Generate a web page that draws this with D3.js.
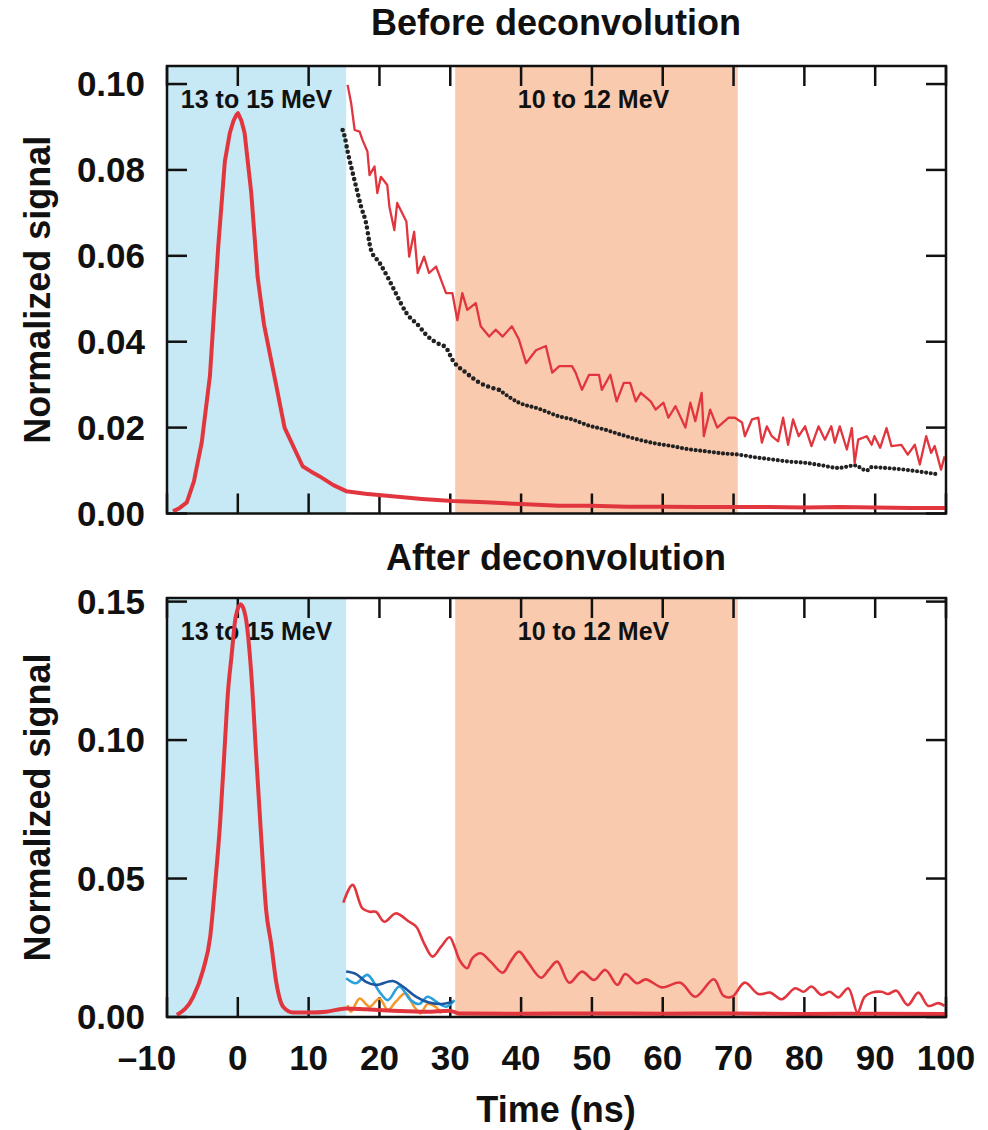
<!DOCTYPE html>
<html><head><meta charset="utf-8">
<script src="https://cdn.jsdelivr.net/npm/d3@7"></script>
<style>
html,body{margin:0;padding:0;background:#fff;}
text{font-family:"Liberation Sans",Arial,Helvetica,sans-serif;font-weight:700;fill:#111;}
</style></head>
<body>
<svg id="chart" width="988" height="1130"></svg>
<script>
// ---------------- DATA ----------------
const xTicks = [-10,0,10,20,30,40,50,60,70,80,90,100];
const yTicksTop = [0,0.02,0.04,0.06,0.08,0.10];
const yTicksBottom = [0,0.05,0.10,0.15];
const titles = ["Before deconvolution","After deconvolution"];
const bandBlue = [-10, 15.3];
const bandOrange = [30.7, 70.6];
const bandLabels = ["13 to 15 MeV","10 to 12 MeV"];

// Top panel: thick red (prompt peak, before deconvolution)
const topPeak = [[-9.15,0.0005],[-8.2,0.0013],[-7.2,0.0026],[-6.2,0.0075],[-5.1,0.0165],[-3.94,0.032],[-2.77,0.062],[-1.83,0.082],[-1.13,0.0886],[-0.6,0.0915],[-0.2,0.0928],[0.03,0.0932],[0.5,0.0915],[0.96,0.0886],[1.9,0.0746],[2.8,0.055],[3.7,0.044],[4.5,0.0374],[5.45,0.0296],[6.6,0.020],[9.15,0.011],[10.3,0.0098],[11.5,0.0087],[13.5,0.0066],[15.3,0.0052],[18,0.0046],[21.8,0.0040],[26,0.0034],[30.3,0.0029],[35,0.0026],[40,0.0022],[45.3,0.0018],[50,0.0018],[55,0.0016],[60,0.0016],[65,0.0015],[70,0.0015],[75,0.0015],[80,0.0014],[85,0.0015],[90,0.0014],[95,0.0013],[99.9,0.0013]];

// Top panel: thin noisy red (before deconvolution, later signal)
const topNoisy = [[15.5,0.0998],[16.0,0.0956],[16.5,0.0893],[17.2,0.0889],[17.6,0.087],[18.3,0.0843],[18.6,0.0788],[19.3,0.0808],[19.7,0.0746],[20.2,0.0784],[21.1,0.0765],[21.4,0.0715],[22.1,0.066],[22.5,0.0723],[23.8,0.068],[24.2,0.0598],[24.9,0.0656],[25.4,0.056],[26.3,0.0598],[27.0,0.056],[28.0,0.0575],[28.7,0.0544],[29.4,0.0513],[30.3,0.0513],[31.0,0.045],[31.7,0.0513],[32.4,0.0474],[33.6,0.049],[34.3,0.0436],[35.5,0.0412],[36.4,0.0428],[37.4,0.0412],[38.7,0.0436],[39.7,0.0405],[40.7,0.035],[42.1,0.038],[43.5,0.039],[44.4,0.0328],[45.4,0.0343],[47.2,0.0343],[47.7,0.0328],[48.6,0.0288],[49.6,0.0323],[51.0,0.0323],[51.4,0.0288],[52.6,0.0323],[53.5,0.0261],[54.5,0.0304],[55.4,0.0304],[56.2,0.0261],[56.9,0.0281],[58.3,0.0261],[59.0,0.0242],[60.1,0.0258],[60.8,0.0223],[61.8,0.025],[63.2,0.020],[63.9,0.0258],[64.6,0.0215],[65.5,0.0281],[65.8,0.018],[66.7,0.0242],[67.7,0.020],[69.3,0.0223],[70.2,0.0223],[71.2,0.0212],[71.6,0.018],[72.6,0.0219],[73.5,0.0223],[74.0,0.0165],[74.7,0.0203],[75.4,0.018],[76.3,0.0168],[77.0,0.0223],[77.7,0.016],[78.4,0.0219],[79.2,0.018],[80.1,0.0203],[81.0,0.0157],[82.0,0.0203],[82.9,0.0172],[83.8,0.0203],[84.3,0.0165],[85.0,0.0203],[86.0,0.0149],[86.7,0.0199],[87.1,0.0118],[87.6,0.0172],[88.8,0.018],[89.5,0.016],[89.9,0.018],[90.7,0.0153],[91.6,0.0199],[92.3,0.0157],[93.7,0.016],[94.6,0.0137],[95.6,0.016],[96.3,0.0114],[97.2,0.018],[97.9,0.0141],[98.4,0.0157],[98.8,0.0133],[99.3,0.0102],[99.8,0.0133]];

// Top panel: black dotted (reference decay)
const topDotted = [[14.8,0.0893],[15.1,0.0877],[15.5,0.0843],[16.0,0.0808],[16.7,0.0761],[17.4,0.0715],[18.1,0.0677],[18.8,0.0614],[20.0,0.0584],[21.2,0.0549],[22.3,0.0513],[23.8,0.0467],[25.6,0.0436],[26.6,0.0416],[28.0,0.0398],[29.4,0.0386],[30.3,0.0358],[32.2,0.0328],[34.1,0.0305],[36.9,0.0288],[39.7,0.0258],[42.5,0.0244],[45.4,0.0226],[47.2,0.0219],[49.5,0.0205],[51.9,0.0195],[54.0,0.0184],[56.6,0.0172],[59.0,0.0163],[61.3,0.0157],[63.5,0.0150],[66.0,0.0145],[68.5,0.0140],[70.7,0.0137],[73.0,0.0131],[75.4,0.0126],[77.8,0.0121],[80.1,0.0118],[82.5,0.0112],[84.8,0.0106],[87.1,0.0112],[88.8,0.0100],[89.5,0.0108],[91.5,0.0106],[94.2,0.0102],[96.5,0.0097],[98.9,0.0091]];

// Bottom panel: thick red (deconvolved peak)
const botPeak = [[-8.6,0.0007],[-6.3,0.0073],[-4.9,0.017],[-3.9,0.029],[-3.2,0.048],[-2.5,0.070],[-1.8,0.100],[-1.4,0.117],[-0.9,0.130],[-0.3,0.1445],[0.4,0.149],[1.1,0.1445],[1.9,0.124],[2.6,0.094],[3.3,0.065],[4.0,0.0386],[4.7,0.0266],[5.45,0.0122],[6.4,0.0037],[7.8,0.0016],[10.1,0.0016],[12.5,0.0019],[15.3,0.0031],[18.1,0.0028],[21.9,0.0023],[26.6,0.0019],[29.9,0.0023],[31.3,0.0013],[40,0.0012],[50,0.0013],[60,0.0012],[70,0.0013],[80,0.0011],[90,0.0012],[99.9,0.0011]];

// Bottom panel: thin red (deconvolved later signal)
const botThin = [[14.9,0.0413],[16.2,0.0477],[17.6,0.0392],[18.6,0.038],[19.5,0.038],[20.7,0.0344],[22.3,0.0374],[24.2,0.0344],[25.2,0.0326],[26.3,0.0266],[27.5,0.0218],[28.7,0.0254],[29.9,0.0288],[30.6,0.0254],[31.3,0.0206],[32.4,0.0176],[33.1,0.0212],[34.3,0.023],[35.7,0.020],[37.4,0.016],[38.5,0.020],[39.7,0.0236],[40.9,0.020],[42.8,0.0142],[43.9,0.017],[45.1,0.020],[46.8,0.0124],[48.6,0.0164],[50.3,0.0134],[51.9,0.017],[53.6,0.0116],[54.7,0.0155],[56.4,0.0122],[57.6,0.0136],[59.9,0.0107],[62.5,0.0124],[64.6,0.0073],[67.2,0.0136],[68.6,0.0076],[69.8,0.0073],[71.6,0.0124],[73.5,0.0083],[75.2,0.0088],[76.8,0.0064],[78.7,0.0104],[79.9,0.0091],[81.0,0.011],[82.4,0.008],[83.6,0.0091],[84.8,0.0071],[86.2,0.0104],[87.5,0.0016],[88.5,0.0073],[89.5,0.0088],[90.9,0.0091],[91.8,0.0083],[93.0,0.0095],[94.6,0.0043],[96.1,0.0088],[97.5,0.004],[98.9,0.005],[99.8,0.004]];

// Bottom panel: short coloured traces between 15 and 31 ns
const botNavy = [[15.3,0.0164],[16.7,0.0155],[18.1,0.0127],[19.5,0.0116],[21.9,0.013],[23.3,0.011],[25.2,0.0073],[27.0,0.0052],[28.9,0.0047],[30.3,0.0055]];
const botSky = [[15.3,0.014],[16.7,0.0122],[18.3,0.0152],[20.0,0.0091],[21.2,0.0061],[22.8,0.011],[24.4,0.0061],[25.6,0.0047],[26.8,0.0073],[28.2,0.0052],[29.4,0.0037],[30.6,0.0061]];
const botOrange = [[15.5,0.0043],[16.0,0.0019],[17.2,0.0067],[18.6,0.0037],[20.0,0.0067],[21.2,0.0025],[22.3,0.0055],[23.7,0.0086],[24.9,0.0037],[25.8,0.0013],[26.8,0.0047],[28.0,0.0035],[28.7,0.0013]];

// ---------------- DRAW ----------------
const svg = d3.select("#chart");
const RED = "#e2363f", BLUE_BAND = "#c6e9f5", ORANGE_BAND = "#f9caad";
const x = d3.scaleLinear().domain([-10,100]).range([167,946]);

const panels = [
  {top:66, bottom:513.5, ymax:0.1042, ticks:yTicksTop, fmt:d3.format(".2f"), title:titles[0], titleY:35, labelY:108},
  {top:598, bottom:1017, ymax:0.1513, ticks:yTicksBottom, fmt:d3.format(".2f"), title:titles[1], titleY:570, labelY:640}
];

panels.forEach((p,i)=>{
  const y = d3.scaleLinear().domain([0,p.ymax]).range([p.bottom,p.top]);
  p.y = y;
  const g = svg.append("g");
  const clipId = "clip"+i;
  g.append("clipPath").attr("id",clipId).append("rect")
    .attr("x",x(-10)).attr("y",p.top).attr("width",x(100)-x(-10)).attr("height",p.bottom-p.top);

  g.append("rect").attr("x",x(bandBlue[0])).attr("y",p.top).attr("width",x(bandBlue[1])-x(bandBlue[0])).attr("height",p.bottom-p.top).attr("fill",BLUE_BAND);
  g.append("rect").attr("x",x(bandOrange[0])).attr("y",p.top).attr("width",x(bandOrange[1])-x(bandOrange[0])).attr("height",p.bottom-p.top).attr("fill",ORANGE_BAND);

  g.append("text").attr("x",(x(bandBlue[0])+x(bandBlue[1]))/2).attr("y",p.labelY).attr("text-anchor","middle").attr("font-size",25).text(bandLabels[0]);
  g.append("text").attr("x",(x(bandOrange[0])+x(bandOrange[1]))/2-3).attr("y",p.labelY).attr("text-anchor","middle").attr("font-size",25).text(bandLabels[1]);

  svg.append("text").attr("x",556).attr("y",p.titleY).attr("text-anchor","middle").attr("font-size",36).text(p.title);

  const tl = 20;
  const tg = g.append("g").attr("stroke","#111").attr("stroke-width",2.5);
  xTicks.forEach(t=>{
    tg.append("line").attr("x1",x(t)).attr("x2",x(t)).attr("y1",p.bottom).attr("y2",p.bottom-tl);
    tg.append("line").attr("x1",x(t)).attr("x2",x(t)).attr("y1",p.top).attr("y2",p.top+tl);
  });
  p.ticks.forEach(t=>{
    tg.append("line").attr("x1",x(-10)).attr("x2",x(-10)+tl).attr("y1",y(t)).attr("y2",y(t));
    tg.append("line").attr("x1",x(100)).attr("x2",x(100)-tl).attr("y1",y(t)).attr("y2",y(t));
  });

  p.ticks.forEach(t=>{
    svg.append("text").attr("x",145).attr("y",y(t)+12).attr("text-anchor","end").attr("font-size",35).text(p.fmt(t));
  });

  svg.append("text").attr("transform",`translate(50,${(p.top+p.bottom)/2}) rotate(-90)`).attr("text-anchor","middle").attr("font-size",36).text("Normalized signal");

  p.g = g.append("g").attr("clip-path",`url(#${clipId})`);
});

// ---- top panel series ----
const P0 = panels[0], P1 = panels[1];
const line0 = d3.line().x(d=>x(d[0])).y(d=>P0.y(d[1]));
const dotLine = d3.line().x(d=>x(d[0])).y(d=>P0.y(d[1])).curve(d3.curveMonotoneX);
P0.g.append("path").datum(topDotted.filter(d=>d[0]<=36.9)).attr("d",dotLine)
  .attr("fill","none").attr("stroke","#222").attr("stroke-width",4.6).attr("stroke-linecap","round").attr("stroke-dasharray","0 5.6");
P0.g.append("path").datum(topDotted.filter(d=>d[0]>=36.9)).attr("d",dotLine)
  .attr("fill","none").attr("stroke","#222").attr("stroke-width",4.2).attr("stroke-linecap","round").attr("stroke-dasharray","0 4.6");
P0.g.append("path").datum(topNoisy).attr("d",line0)
  .attr("fill","none").attr("stroke",RED).attr("stroke-width",2.3).attr("stroke-linejoin","round");
P0.g.append("path").datum(topPeak).attr("d",line0)
  .attr("fill","none").attr("stroke",RED).attr("stroke-width",4).attr("stroke-linejoin","round");

// ---- bottom panel series ----
const smooth = d3.line().x(d=>x(d[0])).y(d=>P1.y(d[1])).curve(d3.curveCatmullRom.alpha(0.5));
[[botOrange,"#f39a2e"],[botSky,"#2aa0dc"],[botNavy,"#1d56a0"]].forEach(([data,col])=>{
  P1.g.append("path").datum(data).attr("d",smooth).attr("fill","none").attr("stroke",col).attr("stroke-width",2.6);
});
P1.g.append("path").datum(botThin).attr("d",smooth).attr("fill","none").attr("stroke",RED).attr("stroke-width",2.6);
P1.g.append("path").datum(botPeak).attr("d",d3.line().x(d=>x(d[0])).y(d=>P1.y(d[1])).curve(d3.curveMonotoneX))
  .attr("fill","none").attr("stroke",RED).attr("stroke-width",4);

// frames
panels.forEach(p=>{
  svg.append("rect").attr("x",x(-10)).attr("y",p.top).attr("width",x(100)-x(-10)).attr("height",p.bottom-p.top)
    .attr("fill","none").attr("stroke","#111").attr("stroke-width",2.5);
});

// x tick labels (bottom panel only)
xTicks.forEach(t=>{
  svg.append("text").attr("x",t<0 ? x(t)-20 : x(t)).attr("y",1070).attr("text-anchor","middle").attr("font-size",35)
    .text(t<0 ? "\u2013"+Math.abs(t) : String(t));
});
svg.append("text").attr("x",556).attr("y",1122).attr("text-anchor","middle").attr("font-size",36).text("Time (ns)");
</script>
</body></html>
